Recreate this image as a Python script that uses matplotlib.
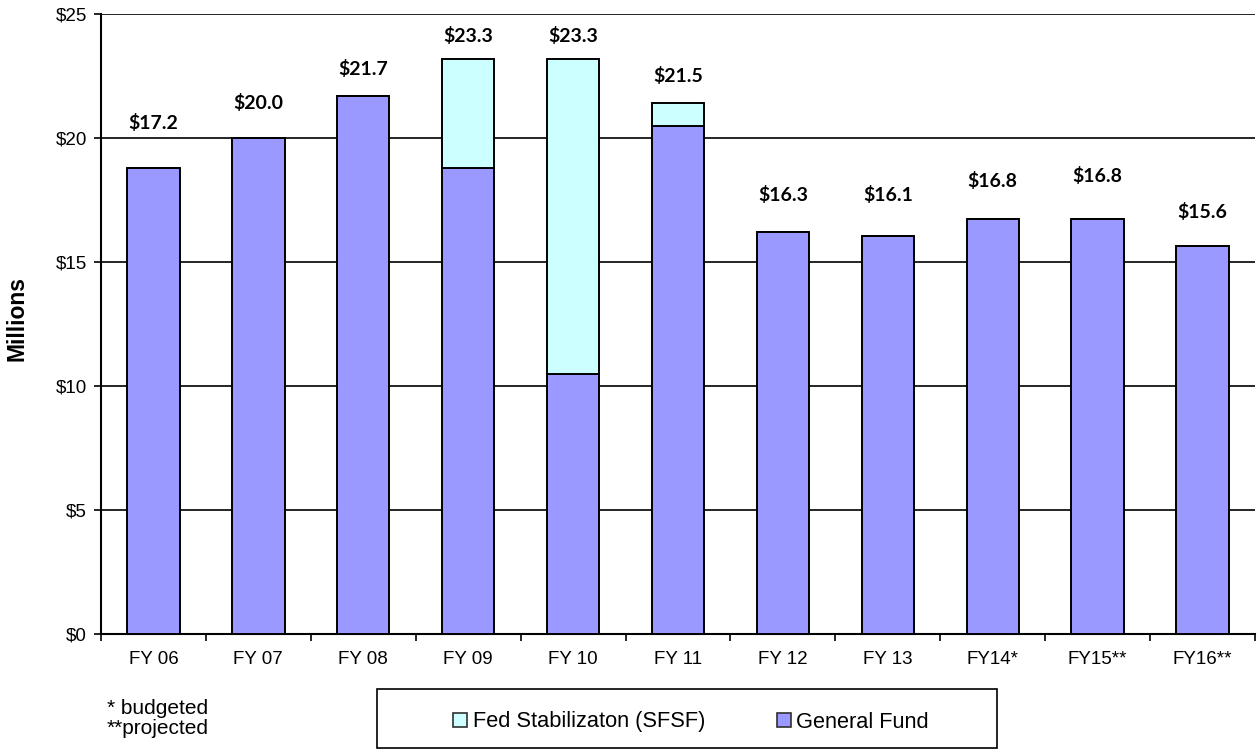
import numpy as np
import matplotlib.pyplot as plt
from matplotlib.patches import Patch, Rectangle

# Data (millions)
categories = ['FY 06', 'FY 07', 'FY 08', 'FY 09', 'FY 10', 'FY 11',
              'FY 12', 'FY 13', 'FY14*', 'FY15**', 'FY16**']
general_fund = [18.8, 20.0, 21.7, 18.8, 10.5, 20.5, 16.2, 16.05, 16.75, 16.75, 15.65]
fed_sfsf = [0, 0, 0, 4.4, 12.7, 0.9, 0, 0, 0, 0, 0]
value_labels = ['$17.2', '$20.0', '$21.7', '$23.3', '$23.3', '$21.5',
                '$16.3', '$16.1', '$16.8', '$16.8', '$15.6']
label_heights = [20.6, 21.4, 22.8, 24.1, 24.1, 22.5, 17.7, 17.7, 18.25, 18.45, 17.0]
y_ticks = [0, 5, 10, 15, 20, 25]

gf_color = '#9999FF'
sfsf_color = '#CCFFFF'

plt.rcParams['font.family'] = ['Liberation Sans', 'DejaVu Sans']

fig = plt.figure(figsize=(12.57, 7.53), dpi=100)
ax = fig.add_axes([101 / 1257, 1 - 634 / 753, 1154 / 1257, 620 / 753])

x = np.arange(len(categories))
ax.bar(x, general_fund, width=0.5, color=gf_color, edgecolor='black', linewidth=1.4, zorder=3)
ax.bar(x, fed_sfsf, width=0.5, bottom=general_fund, color=sfsf_color,
       edgecolor='black', linewidth=1.4, zorder=3)

# value labels (placed by hand in the original)
for xi, txt, yl in zip(x, value_labels, label_heights):
    ax.text(xi, yl, txt, ha='center', va='center', fontsize=14,
            fontweight='bold', family=['Lato', 'DejaVu Sans'])

ax.set_xlim(-0.5, len(categories) - 0.5)
ax.set_ylim(0, 25)
ax.set_yticks(y_ticks)
ax.set_yticklabels(['$%d' % v for v in y_ticks], fontsize=13.5)
ax.yaxis.grid(True, color='black', linewidth=1.2, zorder=0)
ax.set_axisbelow(True)

# category labels centered, ticks at boundaries
ax.set_xticks(x)
ax.set_xticklabels(categories, fontsize=13.5)
ax.tick_params(axis='x', length=0, pad=12)
ax.set_xticks(np.arange(-0.5, len(categories) + 0.5, 1), minor=True)
ax.tick_params(axis='x', which='minor', length=5, width=1.2, direction='out')
ax.tick_params(axis='y', length=5, width=1.2, direction='out', pad=5)

for side in ['top', 'right']:
    ax.spines[side].set_visible(False)
for side in ['left', 'bottom']:
    ax.spines[side].set_linewidth(1.5)

fig.text(17 / 1257, 1 - 318 / 753, 'Millions', rotation=90, fontsize=16.5,
         fontweight='bold', ha='center', va='center')

# footnotes
fig.text(107 / 1257, 1 - 709 / 753, '* budgeted', fontsize=15, va='center')
fig.text(107 / 1257, 1 - 729 / 753, '**projected', fontsize=15, va='center')

# legend box
fig.patches.append(Rectangle((377 / 1257, 1 - 748 / 753), 620 / 1257, 59 / 753,
                             transform=fig.transFigure, facecolor='white',
                             edgecolor='black', linewidth=1.2))
handles = [Patch(facecolor=sfsf_color, edgecolor='#303030', linewidth=1.2),
           Patch(facecolor=gf_color, edgecolor='#303030', linewidth=1.2)]
fig.legend(handles, ['Fed Stabilizaton (SFSF)', 'General Fund'],
           loc='center', bbox_to_anchor=(691 / 1257, 1 - 722 / 753),
           ncol=2, frameon=False, fontsize=15.7, handlelength=0.65,
           handleheight=0.65, handletextpad=0.25, columnspacing=3.3)

fig.savefig('out.png', dpi=100)
